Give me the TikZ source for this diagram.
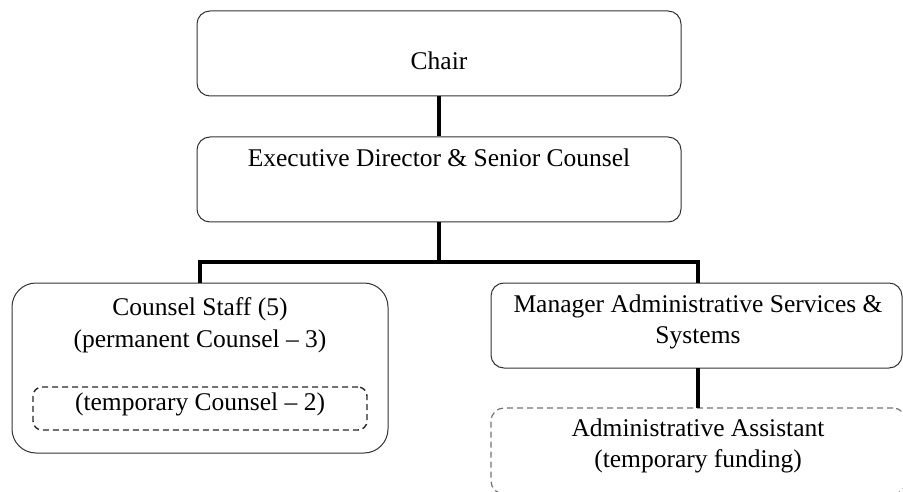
\documentclass[tikz,border=0pt]{standalone}
\usepackage{fontspec}
\setmainfont{Liberation Serif}
\begin{document}
\begin{tikzpicture}[x=1pt,y=-1pt,
  box/.style={draw=black!80,line width=1pt,rounded corners=13pt,inner sep=0pt},
  txt/.style={font=\fontsize{25.5}{31.5}\selectfont,align=center,inner sep=0pt},
  conn/.style={line width=4pt}]
\useasboundingbox (0,0) rectangle (903,492);
% boxes
\node[box,minimum width=484pt,minimum height=85pt] (chair) at (439,53.5) {};
\node[box,minimum width=484pt,minimum height=85pt] (exec) at (439,179.5) {};
\node[box,rounded corners=24pt,minimum width=376pt,minimum height=170pt] (counsel) at (200,368) {};
\node[box,draw=black!85,line width=1.4pt,dash pattern=on 6pt off 4pt,rounded corners=9pt,minimum width=334pt,minimum height=43pt] (temp) at (200,408.5) {};
\node[box,minimum width=411pt,minimum height=85pt] (mgr) at (696.5,325.5) {};
\node[box,draw=black!55,line width=1.2pt,dash pattern=on 6pt off 4pt,rounded corners=13pt,minimum width=415pt,minimum height=86pt] (asst) at (698.5,451) {};
% texts
\node[txt] (tchair) at (439,61) {Chair};
\node[txt] (texec) at (439,158) {Executive Director \& Senior Counsel};
\node[txt] (tcounsel) at (200,325) {Counsel Staff (5)\\(permanent Counsel – 3)};
\node[txt] (ttemp) at (200,404) {(temporary Counsel – 2)};
\node[txt] (tmgr) at (698,322) {Manager Administrative Services \&\\Systems};
\node[txt] (tasst) at (698,446) {Administrative Assistant\\(temporary funding)};
% connectors
\coordinate (bar) at (439,262);
\coordinate (mgrtop) at (698,283);
\draw[conn] (chair.south) -- (exec.north);
\draw[conn] (exec.south) -- (bar);
\draw[conn] (counsel.north) |- (bar) -| (mgrtop);
\draw[conn] (698,368) -- (698,408);
\end{tikzpicture}
\end{document}
